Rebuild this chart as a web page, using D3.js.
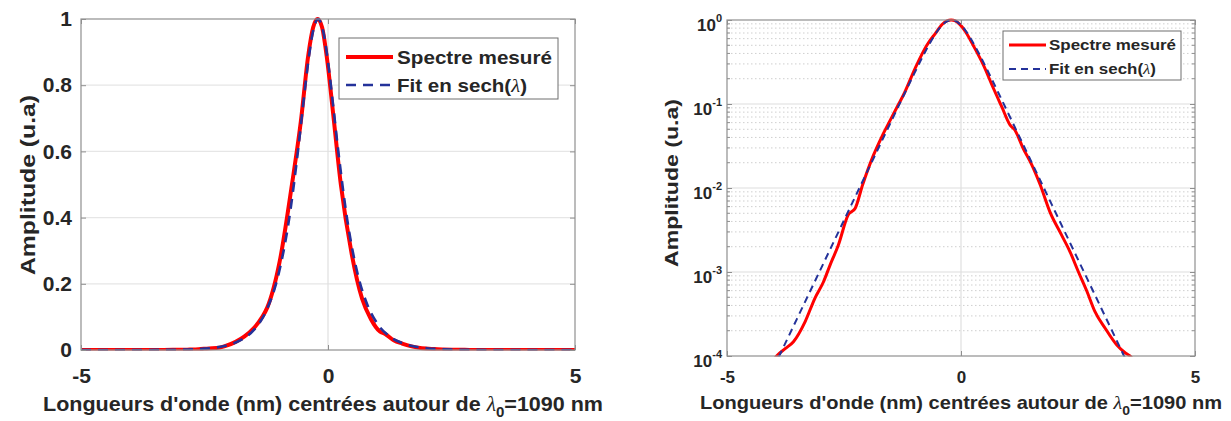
<!DOCTYPE html>
<html><head><meta charset="utf-8">
<script src="https://cdn.jsdelivr.net/npm/d3@7"></script>
<style>
body{margin:0;background:#fff}
svg{display:block}
text{font-family:"Liberation Sans",Arial,sans-serif;font-weight:bold;fill:#262626}
</style>
</head><body><svg id="c" width="1231" height="421"></svg>
<script>
// ---- data ----
const measuredX = [-5,-4.6,-4.2,-3.94,-3.75,-3.58,-3.33,-3.12,-2.94,-2.8,-2.62,-2.41,-2.26,-2.1,-1.87,-1.69,-1.5,-1.34,-1.23,-0.98,-0.73,-0.55,-0.4,-0.3,-0.21,-0.12,-0.02,0.1,0.26,0.48,0.69,0.87,1.05,1.15,1.33,1.5,1.69,1.9,2.15,2.33,2.51,2.69,2.86,3.08,3.33,3.5,3.61,3.9,4.4,5];
const measuredY = [1.5e-5,3e-5,6e-5,1e-4,1.23e-4,1.48e-4,2.57e-4,4.9e-4,7.6e-4,1.2e-3,2.1e-3,4.8e-3,5.75e-3,0.011,0.0246,0.041,0.066,0.098,0.128,0.266,0.5,0.69,0.89,0.975,1.0,0.975,0.88,0.72,0.5,0.29,0.155,0.093,0.056,0.049,0.0295,0.0195,0.011,0.0052,0.00275,0.00174,0.001,5.9e-4,3.4e-4,2.14e-4,1.35e-4,1.1e-4,1e-4,6e-5,3e-5,1.5e-5];
const fitX = [-5,-4.5,-4,-3.5,-3,-2.5,-2,-1.75,-1.5,-1.25,-1,-0.8,-0.6,-0.5,-0.4,-0.3,-0.2,-0.1,0,0.1,0.2,0.4,0.6,0.8,1,1.25,1.5,2,2.5,3,3.5,4,4.5,5];
const fitY = [5e-6,1.91e-5,7.32e-5,2.81e-4,1.076e-3,4.13e-3,0.01584,0.031,0.0606,0.1185,0.2297,0.3834,0.6114,0.7445,0.8711,0.9649,1,0.9649,0.8711,0.7445,0.6114,0.3834,0.2297,0.1354,0.0793,0.0406,0.02072,5.4e-3,1.409e-3,3.68e-4,9.59e-5,2.5e-5,6.55e-6,1.7e-6];
const xTicks = [-5,0,5];
const linTicks = [0,0.2,0.4,0.6,0.8,1];
const logTicks = [1e-4,1e-3,1e-2,1e-1,1];
const logExponents = ["-4","-3","-2","-1","0"];
const seriesNames = ["Spectre mesuré","Fit en sech("];
const xTitleA = "Longueurs d'onde (nm) centrées autour de ";
const xTitleB = "=1090 nm";
const yTitle = "Amplitude (u.a)";

const measured = measuredX.map((x,i)=>({x, y: measuredY[i]}));
const fit = fitX.map((x,i)=>({x, y: fitY[i]}));

const svg = d3.select("#c");
const RED = "#ff0000", BLUE = "#24329a";

function drawPanel(cfg){
  const g = svg.append("g");
  const x = d3.scaleLinear([-5,5],[cfg.x0,cfg.x1]);
  const y = cfg.log ? d3.scaleLog([1e-4,1],[cfg.y1,cfg.y0]) : d3.scaleLinear([0,1],[cfg.y1,cfg.y0]);

  // grid
  if (cfg.log) {
    const minor = [];
    for (let e=-4;e<0;e++) for (let m=2;m<=9;m++) minor.push(m*Math.pow(10,e));
    g.selectAll(".mg").data(minor).join("line")
      .attr("x1",cfg.x0).attr("x2",cfg.x1).attr("y1",d=>y(d)).attr("y2",d=>y(d))
      .attr("stroke","#cfcfcf").attr("stroke-width",1).attr("stroke-dasharray","1.5,2.5");
    g.selectAll(".Mg").data(logTicks.slice(1,-1)).join("line")
      .attr("x1",cfg.x0).attr("x2",cfg.x1).attr("y1",d=>y(d)).attr("y2",d=>y(d))
      .attr("stroke","#dedede").attr("stroke-width",1.2);
  } else {
    g.selectAll(".Mg").data(linTicks.slice(1,-1)).join("line")
      .attr("x1",cfg.x0).attr("x2",cfg.x1).attr("y1",d=>y(d)).attr("y2",d=>y(d))
      .attr("stroke","#e6e6e6").attr("stroke-width",1.2);
  }
  g.append("line").attr("x1",x(0)).attr("x2",x(0)).attr("y1",cfg.y0).attr("y2",cfg.y1)
    .attr("stroke","#e0e0e0").attr("stroke-width",1.2);

  // curves
  const clipId = "clip"+cfg.id;
  svg.append("clipPath").attr("id",clipId).append("rect")
    .attr("x",cfg.x0-5).attr("y",cfg.y0-8).attr("width",cfg.x1-cfg.x0+10).attr("height",cfg.y1-cfg.y0+8.5);
  const line = d3.line().x(d=>x(d.x)).y(d=>y(d.y)).curve(d3.curveMonotoneX);
  const cg = g.append("g").attr("clip-path",`url(#${clipId})`);
  cg.append("path").attr("d",line(measured)).attr("fill","none").attr("stroke",RED)
    .attr("stroke-width",cfg.redW).attr("stroke-linejoin","round");
  cg.append("path").attr("d",line(fit)).attr("fill","none").attr("stroke",BLUE)
    .attr("stroke-width",cfg.blueW).attr("stroke-dasharray",cfg.dash);

  // axes
  const axColor = "#8f8f8f";
  const bottom = g.append("g").attr("transform",`translate(0,${cfg.y1})`)
    .call(d3.axisBottom(x).tickValues(xTicks).tickSize(-5).tickPadding(cfg.xPad).tickFormat(d=>String(d)));
  const top = g.append("g").attr("transform",`translate(0,${cfg.y0})`)
    .call(d3.axisTop(x).tickValues(xTicks).tickSize(-5).tickFormat(""));
  const yAx = cfg.log ? d3.axisLeft(y).tickValues(logTicks).tickFormat("") :
      d3.axisLeft(y).tickValues(linTicks).tickFormat(d=>String(d));
  const left = g.append("g").attr("transform",`translate(${cfg.x0},0)`)
    .call(yAx.tickSize(-5).tickPadding(cfg.yPad));
  const right = g.append("g").attr("transform",`translate(${cfg.x1},0)`)
    .call(d3.axisRight(y).tickValues(cfg.log?logTicks:linTicks).tickSize(-5).tickFormat(""));
  [bottom,top,left,right].forEach(a=>{
    a.select(".domain").remove();
    a.selectAll(".tick line").attr("stroke",axColor).attr("stroke-width",1);
    a.selectAll("text").attr("font-family",null).attr("font-size",cfg.tickFs).attr("fill","#262626");
  });
  if (cfg.log) {
    const minor = [];
    for (let e=-4;e<0;e++) for (let m=2;m<=9;m++) minor.push(m*Math.pow(10,e));
    [[cfg.x0,1],[cfg.x1,-1]].forEach(([xx,s])=>{
      g.selectAll(null).data(minor).join("line")
        .attr("x1",xx).attr("x2",xx+s*3).attr("y1",d=>y(d)).attr("y2",d=>y(d))
        .attr("stroke",axColor).attr("stroke-width",1);
    });
    const lab = g.selectAll(".lt").data(logTicks).join("text")
      .attr("x",cfg.x0-5).attr("y",d=>y(d)+11).attr("text-anchor","end")
      .attr("font-size",cfg.tickFs);
    lab.append("tspan").text("10");
    lab.append("tspan").attr("dy",-9).attr("font-size",11).text((d,i)=>logExponents[i]);
  }
  g.append("rect").attr("x",cfg.x0).attr("y",cfg.y0).attr("width",cfg.x1-cfg.x0).attr("height",cfg.y1-cfg.y0)
    .attr("fill","none").attr("stroke",axColor).attr("stroke-width",1.2);

  // titles
  const xt = g.append("text").attr("x",cfg.xtX).attr("y",cfg.xtY).attr("text-anchor","middle")
    .attr("font-size",cfg.titleFs).attr("textLength",cfg.xtLen).attr("lengthAdjust","spacingAndGlyphs");
  xt.append("tspan").text(xTitleA);
  xt.append("tspan").attr("font-family","Liberation Serif").attr("font-weight","normal").attr("font-style","italic").text("λ");
  xt.append("tspan").attr("dy",cfg.titleFs*0.3).attr("font-size",cfg.titleFs*0.7).text("0");
  xt.append("tspan").attr("dy",-cfg.titleFs*0.3).text(xTitleB);

  g.append("text").attr("transform",`translate(${cfg.ytX},${cfg.ytY}) rotate(-90)`)
    .attr("text-anchor","middle").attr("font-size",cfg.titleFs)
    .attr("textLength",cfg.ytLen).attr("lengthAdjust","spacingAndGlyphs").text(yTitle);

  // legend
  const L = cfg.leg;
  g.append("rect").attr("x",L.x).attr("y",L.y).attr("width",L.w).attr("height",L.h)
    .attr("fill","#fff").attr("stroke","#6e6e6e").attr("stroke-width",1);
  const rows = [{c:RED,w:cfg.redW,d:null},{c:BLUE,w:cfg.blueW,d:cfg.dash}];
  rows.forEach((r,i)=>{
    const yy = L.r[i];
    g.append("line").attr("x1",L.lx0).attr("x2",L.lx1).attr("y1",yy).attr("y2",yy)
      .attr("stroke",r.c).attr("stroke-width",r.w).attr("stroke-dasharray",r.d);
    const t = g.append("text").attr("x",L.tx).attr("y",yy+L.fs*0.36).attr("font-size",L.fs)
      .attr("textLength",L.tl[i]).attr("lengthAdjust","spacingAndGlyphs");
    t.append("tspan").text(seriesNames[i]);
    if (i===1) {
      t.append("tspan").attr("font-family","Liberation Serif").attr("font-weight","normal").attr("font-style","italic").text("λ");
      t.append("tspan").text(")");
    }
  });
}

drawPanel({id:"L",log:false,x0:81,x1:575,y0:19,y1:350,redW:4,blueW:2.6,dash:"10,7",
  tickFs:21,xPad:18,yPad:9,titleFs:21,xtX:323,xtY:411,xtLen:560,ytX:35,ytY:185,ytLen:180,
  leg:{x:339,y:38,w:219,h:61,r:[57,85],lx0:346,lx1:393,tx:397,fs:18.5,tl:[155,130]}});
drawPanel({id:"R",log:true,x0:727,x1:1195,y0:20,y1:356,redW:3,blueW:2,dash:"7,5",
  tickFs:17,xPad:15,yPad:6,titleFs:19,xtX:961,xtY:409,xtLen:522,ytX:678,ytY:183,ytLen:168,
  leg:{x:1003,y:31,w:178,h:49,r:[45,69],lx0:1009,lx1:1046,tx:1049,fs:15,tl:[127,107]}});
</script></body></html>
